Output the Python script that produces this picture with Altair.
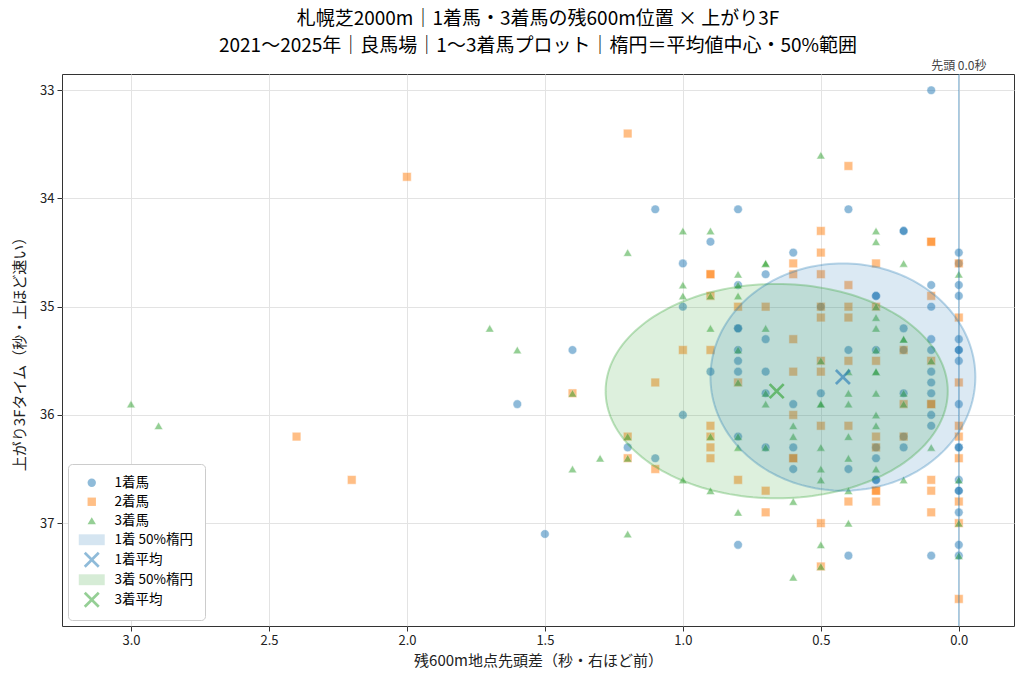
import altair as alt
import pandas as pd

FONT = "Noto Sans CJK JP"
BLUE = "#1f77b4"
ORANGE = "#ff7f0e"
GREEN = "#2ca02c"

# ── data: (lead gap at 600m [s], last-3F time [s]) ────────────────────────────
win_pts = [  # 1着馬
    (0.1, 33.0),
    (1.1, 34.1), (0.8, 34.1), (0.4, 34.1),
    (0.2, 34.3), (0.2, 34.3), (0.9, 34.4),
    (0.6, 34.5), (0.0, 34.5), (1.0, 34.6), (0.0, 34.6), (0.7, 34.7),
    (0.8, 34.8), (0.1, 34.8), (0.0, 34.8),
    (0.3, 34.9), (0.3, 34.9), (0.0, 34.9),
    (1.0, 35.0), (0.5, 35.0), (0.1, 35.0),
    (0.8, 35.2), (0.8, 35.2), (0.2, 35.2),
    (0.7, 35.3), (0.1, 35.3), (0.0, 35.3),
    (1.4, 35.4), (0.8, 35.4), (0.4, 35.4), (0.3, 35.4), (0.2, 35.4),
    (0.1, 35.4), (0.0, 35.4), (0.0, 35.4),
    (0.8, 35.5), (0.0, 35.5),
    (0.9, 35.6), (0.8, 35.6), (0.7, 35.6), (0.1, 35.6),
    (0.1, 35.7),
    (0.7, 35.8), (0.5, 35.8), (0.2, 35.8), (0.1, 35.8),
    (1.6, 35.9), (0.6, 35.9), (0.0, 35.9),
    (1.0, 36.0), (0.1, 36.0), (0.1, 36.1),
    (0.8, 36.2), (0.2, 36.2),
    (1.2, 36.3), (0.7, 36.3), (0.6, 36.3), (0.3, 36.3), (0.2, 36.3),
    (0.0, 36.3), (0.0, 36.3),
    (1.1, 36.4), (0.3, 36.4), (0.6, 36.5), (0.4, 36.5),
    (0.3, 36.6), (0.3, 36.6), (0.0, 36.6),
    (0.0, 36.7), (0.0, 36.7), (0.0, 36.9),
    (1.5, 37.1), (0.8, 37.2), (0.0, 37.2),
    (0.4, 37.3), (0.1, 37.3), (0.0, 37.3),
]

second_pts = [  # 2着馬
    (1.2, 33.4), (0.4, 33.7), (2.0, 33.8),
    (0.5, 34.3), (0.1, 34.4), (0.1, 34.4), (0.5, 34.5),
    (0.6, 34.6), (0.3, 34.6), (0.0, 34.6),
    (0.9, 34.7), (0.9, 34.7), (0.6, 34.7), (0.5, 34.7),
    (0.4, 34.8), (0.9, 34.9), (0.1, 34.9),
    (0.8, 35.0), (0.7, 35.0), (0.5, 35.0), (0.4, 35.0), (0.3, 35.0),
    (0.5, 35.1), (0.4, 35.1), (0.0, 35.1),
    (0.6, 35.3),
    (1.0, 35.4), (0.9, 35.4), (0.2, 35.4),
    (0.5, 35.5), (0.4, 35.5), (0.3, 35.5), (0.1, 35.5),
    (0.6, 35.6), (0.5, 35.6),
    (1.1, 35.7), (0.8, 35.7), (0.0, 35.7),
    (1.4, 35.8),
    (0.2, 35.9), (0.1, 35.9), (0.1, 35.9),
    (0.6, 36.0),
    (0.9, 36.1), (0.5, 36.1), (0.4, 36.1), (0.0, 36.1),
    (2.4, 36.2), (1.2, 36.2), (0.9, 36.2), (0.3, 36.2), (0.2, 36.2), (0.0, 36.2),
    (0.9, 36.3), (0.3, 36.3),
    (1.2, 36.4), (0.9, 36.4), (0.6, 36.4), (0.6, 36.4), (0.0, 36.4),
    (1.1, 36.5),
    (2.2, 36.6), (0.8, 36.6), (0.1, 36.6),
    (0.7, 36.7), (0.3, 36.7), (0.3, 36.7), (0.1, 36.7),
    (0.4, 36.8), (0.3, 36.8), (0.0, 36.8),
    (0.7, 36.9), (0.1, 36.9),
    (0.5, 37.0), (0.0, 37.0),
    (0.5, 37.4), (0.0, 37.7),
]

third_pts = [  # 3着馬
    (0.5, 33.6),
    (1.0, 34.3), (0.9, 34.3), (0.3, 34.3), (0.3, 34.4), (1.2, 34.5),
    (0.7, 34.6), (0.7, 34.6), (0.2, 34.6),
    (0.8, 34.7), (0.0, 34.7), (1.0, 34.8), (0.8, 34.8),
    (1.0, 34.9), (0.9, 34.9), (0.8, 34.9),
    (0.3, 35.0), (0.3, 35.1),
    (1.7, 35.2), (0.9, 35.2), (0.7, 35.2), (0.3, 35.2),
    (0.2, 35.3), (0.2, 35.3),
    (1.6, 35.4), (0.8, 35.4), (0.3, 35.4),
    (0.5, 35.5), (0.1, 35.5),
    (0.4, 35.6), (0.3, 35.6), (0.3, 35.6),
    (0.8, 35.7),
    (1.4, 35.8), (0.7, 35.8), (0.4, 35.8), (0.3, 35.8), (0.2, 35.8),
    (3.0, 35.9), (0.7, 35.9), (0.5, 35.9), (0.5, 35.9), (0.4, 35.9), (0.2, 35.9),
    (0.3, 36.0),
    (2.9, 36.1), (0.6, 36.1), (0.3, 36.1),
    (1.2, 36.2), (0.9, 36.2), (0.8, 36.2), (0.6, 36.2), (0.4, 36.2),
    (0.8, 36.3), (0.7, 36.3), (0.5, 36.3), (0.1, 36.3),
    (1.3, 36.4), (1.2, 36.4), (0.4, 36.4),
    (1.4, 36.5), (0.5, 36.5), (0.3, 36.5),
    (1.0, 36.6), (0.5, 36.6), (0.2, 36.6), (0.0, 36.6),
    (0.9, 36.7), (0.4, 36.7), (0.6, 36.8), (0.8, 36.9),
    (0.4, 37.0), (0.0, 37.0), (1.2, 37.1), (0.5, 37.2),
    (0.0, 37.3), (0.5, 37.4), (0.6, 37.5),
]

# means and 50% ellipses (1着, 3着)
mean_names = ["1着平均", "3着平均"]
mean_x = [0.42, 0.66]
mean_y = [35.65, 35.78]
half_w = [0.48, 0.62]   # semi-axis along x [s]
half_h = [1.05, 0.99]   # semi-axis along y [s]

lead_x = [0.0]
lead_label = ["先頭 0.0秒"]

x_ticks = [3.0, 2.5, 2.0, 1.5, 1.0, 0.5, 0.0]
y_ticks = [33, 34, 35, 36, 37]

# ── legend scales (shared by the two point layers) ────────────────────────────
RECT = "M-3.1,-1.3H3.1V1.3H-3.1Z"
XMARK = ("M-1.9,-1.45L-1.45,-1.9L0,-0.45L1.45,-1.9L1.9,-1.45L0.45,0"
         "L1.9,1.45L1.45,1.9L0,0.45L-1.45,1.9L-1.9,1.45L-0.45,0Z")
legend_names = ["1着馬", "2着馬", "3着馬", "1着 50%楕円", "1着平均", "3着 50%楕円", "3着平均"]
legend_colors = [BLUE, ORANGE, GREEN, "#abcbe3", BLUE, "#addaad", GREEN]
legend_shapes = ["circle", "square", "triangle-up", RECT, XMARK, RECT, XMARK]

rows = []
for name, pts in [("1着馬", win_pts), ("2着馬", second_pts), ("3着馬", third_pts)]:
    rows += [{"x": x, "y": y, "series": name} for x, y in pts]
points_df = pd.DataFrame(rows)
means_df = pd.DataFrame({"x": mean_x, "y": mean_y, "series": mean_names})
lead_df = pd.DataFrame({"x": lead_x, "label": lead_label})

xs = alt.Scale(domain=[-0.2, 3.25], reverse=True, nice=False, zero=False)
ys = alt.Scale(domain=[32.85, 37.95], reverse=True, nice=False, zero=False)

x_enc = alt.X("x:Q", scale=xs, axis=alt.Axis(values=x_ticks, format=".1f"),
              title="残600m地点先頭差（秒・右ほど前）")
y_enc = alt.Y("y:Q", scale=ys, axis=alt.Axis(values=y_ticks, format="d"),
              title="上がり3Fタイム（秒・上ほど速い）")

color_enc = alt.Color(
    "series:N",
    scale=alt.Scale(domain=legend_names, range=legend_colors),
    legend=alt.Legend(
        title=None, orient="bottom-left", offset=6,
        fillColor="white", strokeColor="#cccccc", cornerRadius=4,
        padding=12, symbolOffset=5, labelFontSize=13.5, labelOffset=16,
        symbolSize=70, rowPadding=4, symbolStrokeWidth=0, symbolOpacity=0.5,
    ),
)
shape_enc = alt.Shape("series:N", scale=alt.Scale(domain=legend_names, range=legend_shapes))

points = alt.Chart(points_df).mark_point(
    filled=True, size=75, opacity=0.5, stroke="white", strokeWidth=0.5
).encode(x=x_enc, y=y_enc, color=color_enc, shape=shape_enc)


# ── 50% ellipses: outline generated from centre and semi-axes ────────────────
def ellipse(i, color):
    cx, cy, a, b = mean_x[i], mean_y[i], half_w[i], half_h[i]
    base = alt.Chart(alt.sequence(0, 361, 2, as_="deg")).transform_calculate(
        t="datum.deg * PI / 180"
    ).transform_calculate(
        ex=f"{cx} + {a} * cos(datum.t)",
        ey=f"{cy} - {b} * sin(datum.t)",
        ey2=f"{cy} + {b} * sin(datum.t)",
    )
    fill = base.transform_filter("datum.deg <= 180").mark_area(
        color=color, opacity=0.16
    ).encode(
        x=alt.X("ex:Q", scale=xs),
        y=alt.Y("ey:Q", scale=ys),
        y2="ey2:Q",
    )
    edge = base.mark_line(color=color, opacity=0.3, strokeWidth=2).encode(
        x=alt.X("ex:Q", scale=xs),
        y=alt.Y("ey:Q", scale=ys),
        order="deg:Q",
    )
    return fill, edge


ell1_fill, ell1_edge = ellipse(0, BLUE)
ell3_fill, ell3_edge = ellipse(1, GREEN)

means = alt.Chart(means_df).mark_point(filled=True, size=70, opacity=0.6).encode(
    x=alt.X("x:Q", scale=xs), y=alt.Y("y:Q", scale=ys),
    color=color_enc, shape=shape_enc,
)

lead_rule = alt.Chart(lead_df).mark_rule(color=BLUE, opacity=0.5, strokeWidth=1.2).encode(
    x=alt.X("x:Q", scale=xs)
)
lead_text = alt.Chart(lead_df).mark_text(
    baseline="bottom", dy=-1, fontSize=12, color="#444444", font=FONT
).encode(x=alt.X("x:Q", scale=xs), y=alt.value(0), text="label:N")

chart = (
    alt.layer(points, ell3_fill, ell1_fill, ell3_edge, ell1_edge, means, lead_rule, lead_text)
    .properties(
        width=952,
        height=552,
        autosize=alt.AutoSizeParams(type="none"),
        padding={"left": 54, "top": 66, "right": 2, "bottom": 50},
        title=alt.TitleParams(
            text="札幌芝2000m｜1着馬・3着馬の残600m位置 × 上がり3F",
            subtitle="2021〜2025年｜良馬場｜1〜3着馬プロット｜楕円＝平均値中心・50%範囲",
            fontSize=19, fontWeight="normal", anchor="middle", frame="group",
            offset=4, color="black", font=FONT,
            subtitleFont=FONT, subtitleFontSize=19, subtitleColor="black",
            subtitlePadding=8,
        ),
    )
    .configure_view(stroke="#333333", strokeWidth=1)
    .configure_axis(
        labelFont=FONT, titleFont=FONT, labelFontSize=13, titleFontSize=15,
        labelColor="#222222", titleColor="#222222", titleFontWeight="normal",
        gridColor="#e3e3e3", gridWidth=1, tickColor="#333333", tickSize=5,
        domain=False, labelPadding=3,
    )
    .configure_axisY(titlePadding=12)
    .configure_axisX(titlePadding=6)
    .configure_legend(labelFont=FONT)
)

chart.save("out.html", embed_options={"renderer": "svg", "actions": False})
